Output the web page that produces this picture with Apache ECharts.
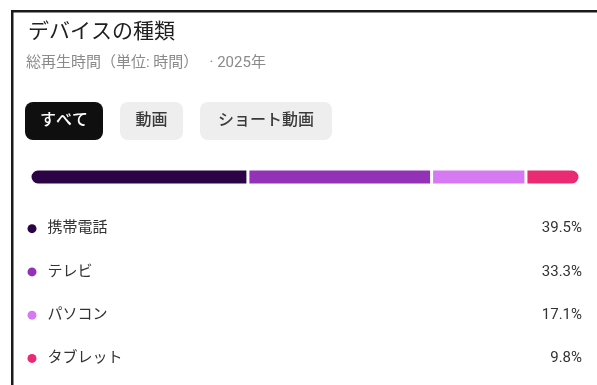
<!DOCTYPE html>
<html>
<head>
<meta charset="utf-8">
<script src="https://cdn.jsdelivr.net/npm/echarts@6/dist/echarts.min.js"></script>
<style>
  html, body { margin: 0; padding: 0; background: #fff; }
  #chart { width: 597px; height: 385px; }
</style>
</head>
<body>
<div id="chart"></div>
<script>
// Device type share of total watch time
const categories = ['携帯電話', 'テレビ', 'パソコン', 'タブレット'];
const shares = [39.5, 33.3, 17.1, 9.8];
const colors = ['#2c0445', '#9332b6', '#d57af2', '#ea2a72'];
const filterTabs = ['すべて', '動画', 'ショート動画'];
const titleText = 'デバイスの種類';
const subtitleText = '総再生時間（単位: 時間）   · 2025年';

const FONT = 'Roboto, "Noto Sans CJK JP", sans-serif';
const total = shares.reduce((a, b) => a + b, 0);

// Stacked share bar, one segment per device
const barSeries = categories.map((name, i) => {
  const last = categories.length - 1;
  let radius = 0;
  if (i === 0) radius = [8, 0, 0, 8];
  if (i === last) radius = [0, 8, 8, 0];
  return {
    name: name,
    type: 'bar',
    stack: 'share',
    xAxisIndex: 0,
    yAxisIndex: 0,
    barWidth: 16,
    silent: true,
    itemStyle: { color: colors[i], borderColor: '#fff', borderWidth: 1.5, borderRadius: radius },
    data: [shares[i]]
  };
});

// Tab buttons above the bar
const tabLayout = [
  { x: 25, w: 78, fill: '#0f0f0f', text: '#ffffff' },
  { x: 120, w: 63, fill: '#eeeeee', text: '#3a3a3a' },
  { x: 200, w: 132, fill: '#eeeeee', text: '#3a3a3a' }
];
const tabGraphics = filterTabs.map((label, i) => ({
  type: 'group',
  x: tabLayout[i].x,
  y: 102,
  children: [
    { type: 'rect', shape: { x: 0, y: 0, width: tabLayout[i].w, height: 38, r: 8 }, style: { fill: tabLayout[i].fill } },
    { type: 'text', x: tabLayout[i].w / 2, y: 19,
      style: { text: label, fill: tabLayout[i].text, font: '500 16px ' + FONT, align: 'center', verticalAlign: 'middle' } }
  ]
}));

const chart = echarts.init(document.getElementById('chart'), null, { renderer: 'canvas' });
chart.setOption({
  backgroundColor: '#ffffff',
  animation: false,
  textStyle: { fontFamily: FONT },
  graphic: [
    { type: 'rect', shape: { x: 11, y: 10, width: 586, height: 2.5 }, style: { fill: '#1a1a1a' } },
    { type: 'rect', shape: { x: 11, y: 10, width: 2.5, height: 375 }, style: { fill: '#1a1a1a' } },
    { type: 'text', x: 28, y: 33, style: { text: titleText, fill: '#202020', font: '21px ' + FONT, verticalAlign: 'middle' } },
    { type: 'text', x: 26, y: 63, style: { text: subtitleText, fill: '#8a8a8a', font: '15px ' + FONT, verticalAlign: 'middle' } }
  ].concat(tabGraphics),
  grid: [
    { left: 30, right: 17, top: 169, height: 16 },
    { left: 32, right: 15, top: 207, height: 173 }
  ],
  xAxis: [
    { gridIndex: 0, type: 'value', min: 0, max: total, show: false },
    { gridIndex: 1, type: 'value', min: 0, max: 1, show: false }
  ],
  yAxis: [
    { gridIndex: 0, type: 'category', data: ['share'], show: false },
    { gridIndex: 1, type: 'category', data: categories, inverse: true,
      axisLine: { show: false }, axisTick: { show: false }, axisLabel: { show: false }, splitLine: { show: false } },
    { gridIndex: 1, type: 'category', position: 'right', inverse: true,
      data: shares.map(v => v.toFixed(1) + '%'),
      axisLine: { show: false }, axisTick: { show: false }, splitLine: { show: false },
      axisLabel: { inside: true, margin: 0, color: '#333333', fontSize: 15, fontFamily: FONT } }
  ],
  series: barSeries.concat([
    {
      type: 'scatter',
      xAxisIndex: 1,
      yAxisIndex: 1,
      symbol: 'circle',
      symbolSize: 9,
      silent: true,
      label: { show: true, position: 'right', distance: 11, formatter: '{b}', color: '#333333', fontSize: 15, fontFamily: FONT },
      data: categories.map((name, i) => ({ name: name, value: [0, i], itemStyle: { color: colors[i], opacity: 1 } }))
    }
  ])
});
</script>
</body>
</html>
